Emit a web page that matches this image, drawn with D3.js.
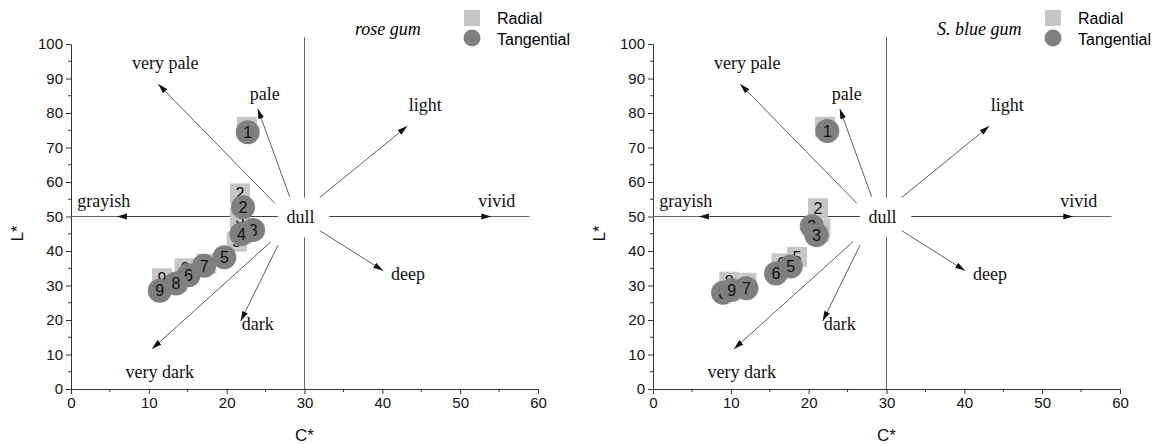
<!DOCTYPE html>
<html>
<head>
<meta charset="utf-8">
<script src="https://cdn.jsdelivr.net/npm/d3@7"></script>
<style>
  body { margin: 0; background: #fff; }
  svg text { font-family: "Liberation Sans", Arial, sans-serif; }
  .term { font-family: "Liberation Serif", "Times New Roman", serif; font-size: 18px; fill: #111; }
</style>
</head>
<body>
<div id="chart"></div>
<script>
// CIELAB C* / L* colour map, two species
const sampleIds = ["1", "2", "3", "4", "5", "6", "7", "8", "9"];
// blue gum tangential: worksheet row order (4 sits under 3)
const blueTanIds = ["4", "1", "2", "3", "5", "6", "7", "8", "9"];

const roseRadialC = [22.6, 21.7, 21.7, 21.9, 21.3, 14.6, 17.4, 13.6, 11.7];
const roseRadialL = [76.0, 56.7, 49.5, 45.0, 42.7, 35.0, 36.3, 31.0, 32.1];
const roseTanC = [22.7, 22.1, 23.4, 21.9, 19.7, 15.1, 17.1, 13.5, 11.4];
const roseTanL = [74.4, 52.7, 46.1, 44.9, 38.2, 33.0, 35.7, 30.6, 28.5];

const blueRadialC = [22.1, 21.2, 21.5, 21.3, 18.5, 16.5, 12.0, 9.8, 10.1];
const blueRadialL = [76.0, 52.4, 46.6, 45.5, 38.3, 36.4, 30.8, 31.1, 29.0];
const blueTanC = [21.0, 22.4, 20.4, 21.0, 17.7, 15.8, 12.0, 9.0, 10.1];
const blueTanL = [44.7, 74.8, 47.2, 44.6, 35.5, 33.5, 29.2, 27.9, 28.7];

// colour-term arrows radiating from "dull" (C*=30, L*=50)
const termNames  = ["very pale", "pale", "light", "vivid", "deep", "dark", "very dark", "grayish"];
const arrowFromC = [26.2, 28.1, 31.95, 33.2, 31.95, 26.6, 25.7, 26.6];
const arrowFromL = [53.8, 55.7, 55.5, 50, 45.9, 41.7, 42.7, 50];
const arrowToC   = [11.2, 24.0, 43.2, 54.0, 40.1, 21.8, 10.4, 5.9];
const arrowToL   = [88.4, 81.2, 76.2, 50, 34.3, 19.7, 11.6, 50];
const termC      = [12.1, 24.9, 45.5, 54.7, 43.3, 24.0, 11.4, 4.2];
const termL      = [92.7, 83.8, 80.6, 52.8, 31.6, 17.1, 3.2, 52.8];

const xTicks = d3.range(0, 61, 10);
const yTicks = d3.range(0, 101, 10);

const width = 1166, height = 444;
const radialFill = '#c6c6c6', tanFill = '#7f7f7f';

const svg = d3.select('#chart').append('svg')
    .attr('width', width)
    .attr('height', height);

svg.append('defs').append('marker')
    .attr('id', 'head')
    .attr('markerUnits', 'userSpaceOnUse')
    .attr('markerWidth', 10)
    .attr('markerHeight', 7)
    .attr('refX', 10)
    .attr('refY', 3.5)
    .attr('orient', 'auto')
  .append('path')
    .attr('d', 'M0,0.5 L10,3.5 L0,6.5 Z')
    .attr('fill', '#111');

const panels = [
    {left: 71, title: 'rose gum', titleX: 355, legendX: 464,
     radC: roseRadialC, radL: roseRadialL, radIds: sampleIds,
     tanC: roseTanC, tanL: roseTanL, tanIds: sampleIds},
    {left: 653, title: 'S. blue gum', titleX: 937, legendX: 1045,
     radC: blueRadialC, radL: blueRadialL, radIds: sampleIds,
     tanC: blueTanC, tanL: blueTanL, tanIds: blueTanIds}
];

panels.forEach(drawPanel);

function drawPanel(p) {
    const x = d3.scaleLinear().domain([0, 60]).range([p.left, p.left + 467]);
    const y = d3.scaleLinear().domain([0, 100]).range([389, 44]);
    const g = svg.append('g');

    // axes
    const xAxis = d3.axisBottom(x).tickValues(xTicks).tickSize(5).tickSizeOuter(0).tickPadding(3);
    const yAxis = d3.axisLeft(y).tickValues(yTicks).tickSize(5).tickSizeOuter(0).tickPadding(3);
    const gx = g.append('g').attr('transform', 'translate(0,' + y(0) + ')').call(xAxis);
    const gy = g.append('g').attr('transform', 'translate(' + x(0) + ',0)').call(yAxis);
    [gx, gy].forEach(function(a){
        a.selectAll('text').style('font-size', '15px').attr('fill', '#111');
        a.selectAll('line, path').attr('stroke', '#333');
    });
    // minor ticks
    gx.selectAll('.minor').data(d3.range(5, 60, 10)).enter().append('line')
        .attr('x1', d => x(d)).attr('x2', d => x(d))
        .attr('y1', 0).attr('y2', 3).attr('stroke', '#333');
    gy.selectAll('.minor').data(d3.range(5, 100, 10)).enter().append('line')
        .attr('y1', d => y(d)).attr('y2', d => y(d))
        .attr('x1', 0).attr('x2', -3).attr('stroke', '#333');

    g.append('text').attr('x', x(30)).attr('y', 441)
        .attr('text-anchor', 'middle').style('font-size', '17px').attr('fill', '#111').text('C*');
    g.append('text')
        .attr('transform', 'translate(' + (p.left - 48) + ',' + (y(50) + 17) + ') rotate(-90)')
        .attr('text-anchor', 'middle').style('font-size', '17px').attr('fill', '#111').text('L*');

    // reference cross through dull
    const ref = g.append('g').attr('stroke', '#666').attr('stroke-width', 1);
    ref.append('line').attr('x1', x(0)).attr('x2', x(26.6)).attr('y1', y(50)).attr('y2', y(50));
    ref.append('line').attr('x1', x(33.2)).attr('x2', x(58.9)).attr('y1', y(50)).attr('y2', y(50));
    ref.append('line').attr('x1', x(30)).attr('x2', x(30)).attr('y1', y(0)).attr('y2', y(44));
    ref.append('line').attr('x1', x(30)).attr('x2', x(30)).attr('y1', y(55.4)).attr('y2', y(102));

    // term arrows
    g.append('g').selectAll('line').data(termNames).enter().append('line')
        .attr('x1', (d, i) => x(arrowFromC[i]))
        .attr('y1', (d, i) => y(arrowFromL[i]))
        .attr('x2', (d, i) => x(arrowToC[i]))
        .attr('y2', (d, i) => y(arrowToL[i]))
        .attr('stroke', '#333')
        .attr('stroke-width', 0.8)
        .attr('marker-end', 'url(#head)');
    g.append('g').selectAll('text').data(termNames).enter().append('text')
        .attr('class', 'term')
        .attr('x', (d, i) => x(termC[i]))
        .attr('y', (d, i) => y(termL[i]))
        .attr('text-anchor', 'middle')
        .text(d => d);
    g.append('text').attr('class', 'term')
        .attr('x', x(29.5)).attr('y', y(48.0))
        .attr('text-anchor', 'middle').text('dull');

    // radial squares
    const rad = g.append('g').selectAll('g').data(p.radIds).enter().append('g')
        .attr('transform', (d, i) => 'translate(' + x(p.radC[i]) + ',' + y(p.radL[i]) + ')');
    rad.append('rect').attr('x', -10).attr('y', -10).attr('width', 20).attr('height', 20)
        .attr('fill', radialFill);
    rad.append('text').attr('text-anchor', 'middle').attr('dy', '0.36em')
        .style('font-size', '16px').attr('fill', '#111').text(d => d);

    // tangential circles
    const tan = g.append('g').selectAll('g').data(p.tanIds).enter().append('g')
        .attr('transform', (d, i) => 'translate(' + x(p.tanC[i]) + ',' + y(p.tanL[i]) + ')');
    tan.append('circle').attr('r', 12).attr('fill', tanFill);
    tan.append('text').attr('text-anchor', 'middle').attr('dy', '0.36em')
        .style('font-size', '16px').attr('fill', '#111').text(d => d);

    // title + legend
    g.append('text').attr('x', p.titleX).attr('y', 35)
        .style('font-family', '"Liberation Serif", serif').style('font-style', 'italic')
        .style('font-size', '18px').text(p.title);
    g.append('rect').attr('x', p.legendX).attr('y', 10).attr('width', 16).attr('height', 16)
        .attr('fill', radialFill);
    g.append('circle').attr('cx', p.legendX + 8).attr('cy', 38).attr('r', 8.5)
        .attr('fill', tanFill);
    g.append('text').attr('x', p.legendX + 33).attr('y', 24)
        .style('font-size', '16px').text('Radial');
    g.append('text').attr('x', p.legendX + 33).attr('y', 45)
        .style('font-size', '16px').text('Tangential');
}
</script>
</body>
</html>
